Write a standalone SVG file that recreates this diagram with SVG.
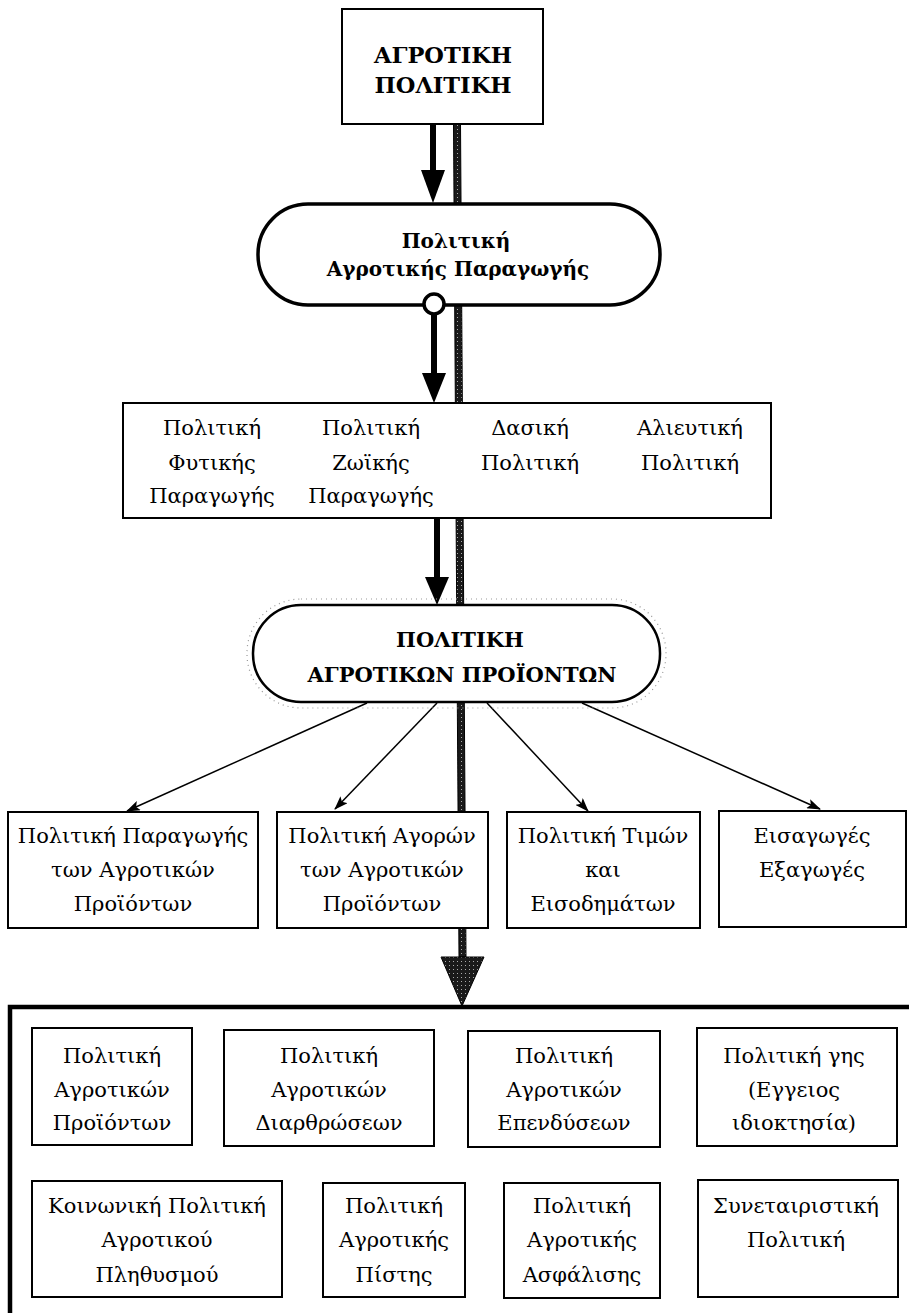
<svg xmlns="http://www.w3.org/2000/svg" width="909" height="1313" viewBox="0 0 909 1313">
<style>
  .box{fill:#fff;stroke:#000;stroke-width:2}
  .pill{fill:#fff;stroke:#000;stroke-width:3.5}
  .t{font-family:"DejaVu Serif","Liberation Serif",serif;font-size:21px;fill:#000;text-anchor:middle}
  .b{font-weight:bold}
  .thin{stroke:#000;stroke-width:1.5;fill:none;marker-end:url(#ah)}
  .stem{stroke:#000;stroke-width:6;fill:none}
  .head{fill:#000}
</style>
<defs>
  <pattern id="stip" width="4" height="4" patternUnits="userSpaceOnUse">
    <rect width="4" height="4" fill="#1a1a1a"/>
    <rect x="1" y="1" width="1" height="1" fill="#aaa"/>
  </pattern>
  <marker id="ah" markerUnits="userSpaceOnUse" markerWidth="14" markerHeight="10" refX="13" refY="5" orient="auto">
    <path d="M0,0 L14,5 L0,10 L3,5 Z" fill="#000"/>
  </marker>
</defs>
<rect width="909" height="1313" fill="#fff"/>

<g id="connectors">
  <polygon points="453.5,124 460.5,124 466,957 459,957" fill="url(#stip)" stroke="#000" stroke-width="1"/>
  <polygon points="441,957 484,957 462,1006" fill="url(#stip)" stroke="#000" stroke-width="1"/>
  <line class="stem" x1="433" y1="124" x2="433" y2="172"/>
  <polygon class="head" points="421,170 445,170 433,203"/>
  <line class="stem" x1="434" y1="312" x2="434" y2="375"/>
  <polygon class="head" points="422,373 446,373 434,403"/>
  <line class="stem" x1="437" y1="518" x2="437" y2="579"/>
  <polygon class="head" points="425,577 449,577 437,605"/>
  <line class="thin" x1="367" y1="703" x2="127" y2="811"/>
  <line class="thin" x1="437" y1="703" x2="335" y2="809"/>
  <line class="thin" x1="487" y1="703" x2="588" y2="811"/>
  <line class="thin" x1="582" y1="703" x2="820" y2="809"/>
</g>

<g id="n-agrotiki">
  <rect class="box" x="342" y="9" width="201" height="115"/>
  <text class="t b" x="443" y="63" style="font-size:22.5px">ΑΓΡΟΤΙΚΗ</text>
  <text class="t b" x="443" y="93" style="font-size:22.5px">ΠΟΛΙΤΙΚΗ</text>
</g>

<g id="n-paragogi">
  <rect class="pill" x="258" y="204" width="402" height="101" rx="50" ry="50"/>
  <text class="t b" x="456" y="248" style="font-size:20px">Πολιτική</text>
  <text class="t b" x="458" y="276" style="font-size:20px">Αγροτικής Παραγωγής</text>
  <circle cx="434" cy="304" r="10" fill="#fff" stroke="#000" stroke-width="3.5"/>
</g>

<g id="n-kladoi">
  <rect class="box" x="123" y="403" width="648" height="115"/>
  <text class="t" x="212" y="435">Πολιτική</text>
  <text class="t" x="212" y="470">Φυτικής</text>
  <text class="t" x="212" y="503">Παραγωγής</text>
  <text class="t" x="371" y="435">Πολιτική</text>
  <text class="t" x="371" y="470">Ζωϊκής</text>
  <text class="t" x="371" y="503">Παραγωγής</text>
  <text class="t" x="530" y="435">Δασική</text>
  <text class="t" x="530" y="470">Πολιτική</text>
  <text class="t" x="690" y="435">Αλιευτική</text>
  <text class="t" x="690" y="470">Πολιτική</text>
</g>

<g id="n-proionta">
  <rect x="247" y="599" width="419" height="109" rx="54" ry="54" fill="none" stroke="#999" stroke-width="1.2" stroke-dasharray="1 4"/>
  <rect class="pill" x="253" y="605" width="407" height="97" rx="48" ry="48" style="stroke-width:2.5"/>
  <text class="t b" x="460" y="647" style="font-size:21px">ΠΟΛΙΤΙΚΗ</text>
  <text class="t b" x="462" y="682" style="font-size:21px">ΑΓΡΟΤΙΚΩΝ ΠΡΟΪΟΝΤΩΝ</text>
</g>

<g id="n-paragogis-proionton">
  <rect class="box" x="8" y="812" width="250" height="116"/>
  <text class="t" x="133" y="843">Πολιτική Παραγωγής</text>
  <text class="t" x="133" y="877">των Αγροτικών</text>
  <text class="t" x="133" y="911">Προϊόντων</text>
</g>
<g id="n-agoron">
  <rect class="box" x="277" y="812" width="211" height="116"/>
  <text class="t" x="382" y="843">Πολιτική Αγορών</text>
  <text class="t" x="382" y="877">των Αγροτικών</text>
  <text class="t" x="382" y="911">Προϊόντων</text>
</g>
<g id="n-timon">
  <rect class="box" x="507" y="812" width="193" height="116"/>
  <text class="t" x="603" y="843">Πολιτική Τιμών</text>
  <text class="t" x="603" y="877">και</text>
  <text class="t" x="603" y="911">Εισοδημάτων</text>
</g>
<g id="n-eisagoges">
  <rect class="box" x="719" y="811" width="187" height="116"/>
  <text class="t" x="812" y="843">Εισαγωγές</text>
  <text class="t" x="812" y="877">Εξαγωγές</text>
</g>

<g id="n-group">
  <path d="M10,1313 V1007 H909" fill="none" stroke="#000" stroke-width="4.5"/>
</g>

<g id="n-a">
  <rect class="box" x="32" y="1028" width="160" height="117"/>
  <text class="t" x="112" y="1063">Πολιτική</text>
  <text class="t" x="112" y="1097">Αγροτικών</text>
  <text class="t" x="112" y="1130">Προϊόντων</text>
</g>
<g id="n-b">
  <rect class="box" x="224" y="1030" width="210" height="116"/>
  <text class="t" x="329" y="1063">Πολιτική</text>
  <text class="t" x="329" y="1097">Αγροτικών</text>
  <text class="t" x="329" y="1130">Διαρθρώσεων</text>
</g>
<g id="n-e">
  <rect class="box" x="468" y="1031" width="192" height="116"/>
  <text class="t" x="564" y="1063">Πολιτική</text>
  <text class="t" x="564" y="1097">Αγροτικών</text>
  <text class="t" x="564" y="1130">Επενδύσεων</text>
</g>
<g id="n-f">
  <rect class="box" x="697" y="1028" width="200" height="118"/>
  <text class="t" x="794" y="1063">Πολιτική γης</text>
  <text class="t" x="794" y="1097">(Εγγειος</text>
  <text class="t" x="794" y="1130">ιδιοκτησία)</text>
</g>
<g id="n-c">
  <rect class="box" x="32" y="1181" width="250" height="116"/>
  <text class="t" x="157" y="1213">Κοινωνική Πολιτική</text>
  <text class="t" x="157" y="1247">Αγροτικού</text>
  <text class="t" x="157" y="1282">Πληθυσμού</text>
</g>
<g id="n-d">
  <rect class="box" x="323" y="1183" width="142" height="114"/>
  <text class="t" x="394" y="1213">Πολιτική</text>
  <text class="t" x="394" y="1247">Αγροτικής</text>
  <text class="t" x="394" y="1282">Πίστης</text>
</g>
<g id="n-g">
  <rect class="box" x="504" y="1183" width="156" height="115"/>
  <text class="t" x="582" y="1213">Πολιτική</text>
  <text class="t" x="582" y="1247">Αγροτικής</text>
  <text class="t" x="582" y="1282">Ασφάλισης</text>
</g>
<g id="n-h">
  <rect class="box" x="698" y="1180" width="200" height="117"/>
  <text class="t" x="796" y="1213">Συνεταιριστική</text>
  <text class="t" x="796" y="1247">Πολιτική</text>
</g>
</svg>
